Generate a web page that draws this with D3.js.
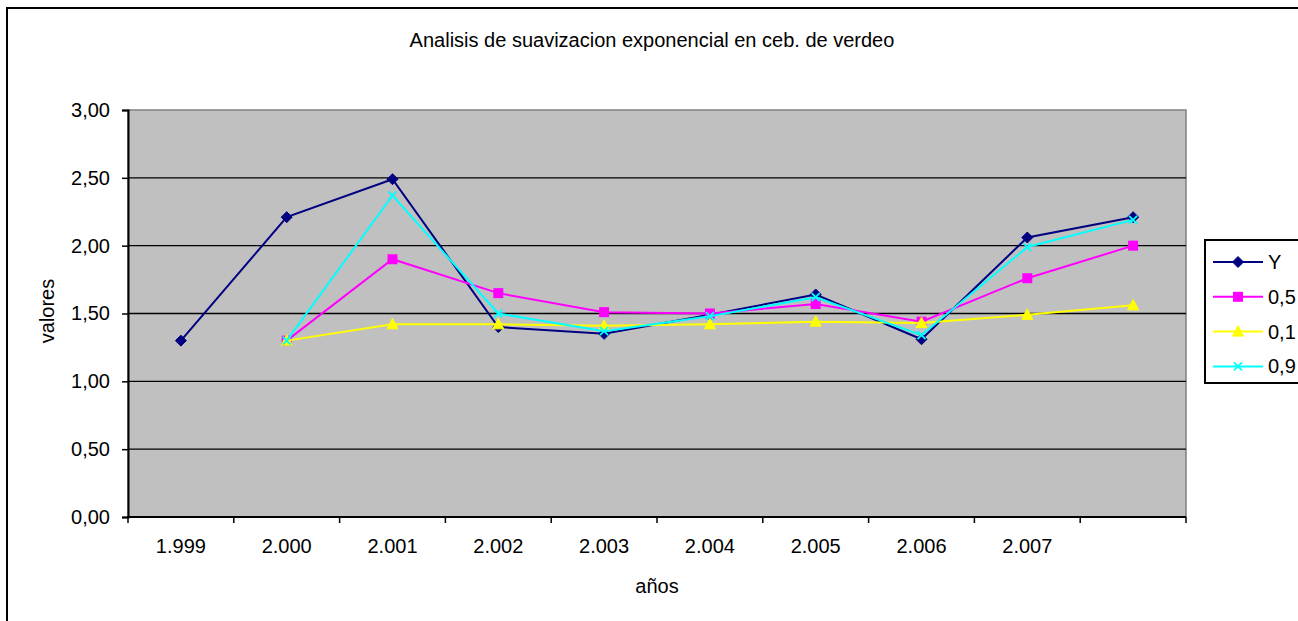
<!DOCTYPE html>
<html>
<head>
<meta charset="utf-8">
<script src="https://cdn.jsdelivr.net/npm/d3@7"></script>
<style>
  body { margin: 0; background: #fff; }
  svg { display: block; font-family: "Liberation Sans", Arial, sans-serif; }
</style>
</head>
<body>
<svg width="1298" height="621"></svg>
<script>
// categories (last one has no label in the original)
var years = ["1.999", "2.000", "2.001", "2.002", "2.003", "2.004", "2.005", "2.006", "2.007", ""];
var serieY   = [1.30, 2.21, 2.49, 1.40, 1.35, 1.49, 1.64, 1.31, 2.06, 2.21];
var serie05  = [null, 1.30, 1.90, 1.65, 1.51, 1.50, 1.57, 1.44, 1.76, 2.00];
var serie01  = [null, 1.30, 1.42, 1.42, 1.41, 1.42, 1.44, 1.43, 1.49, 1.56];
var serie09  = [null, 1.30, 2.37, 1.50, 1.37, 1.48, 1.62, 1.34, 1.99, 2.19];
var seriesNames = ["Y", "0,5", "0,1", "0,9"];
var yTicks = [0, 0.5, 1, 1.5, 2, 2.5, 3];

var series = [
  {name: seriesNames[0], values: serieY,  color: "#000080", marker: "diamond"},
  {name: seriesNames[1], values: serie05, color: "#ff00ff", marker: "square"},
  {name: seriesNames[2], values: serie01, color: "#ffff00", marker: "triangle"},
  {name: seriesNames[3], values: serie09, color: "#00ffff", marker: "cross"}
];

var svg = d3.select("svg");
var fs = 20;

// outer chart frame
svg.append("rect")
    .attr("x", 7).attr("y", 8)
    .attr("width", 1400).attr("height", 700)
    .attr("fill", "#fff")
    .attr("stroke", "#000")
    .attr("stroke-width", 2);

var pLeft = 128, pRight = 1186, pTop = 110, pBottom = 517;

var x = d3.scaleBand()
    .domain(d3.range(years.length))
    .range([pLeft, pRight]);

var y = d3.scaleLinear()
    .domain([0, 3])
    .range([pBottom, pTop]);

// plot area
svg.append("rect")
    .attr("x", pLeft).attr("y", pTop)
    .attr("width", pRight - pLeft).attr("height", pBottom - pTop)
    .attr("fill", "#c0c0c0")
    .attr("stroke", "#808080")
    .attr("stroke-width", 1.5);

// gridlines
svg.append("g")
  .selectAll("line")
  .data(yTicks.filter(function(d) { return d > 0 && d < 3; }))
  .enter().append("line")
    .attr("x1", pLeft).attr("x2", pRight)
    .attr("y1", function(d) { return y(d); })
    .attr("y2", function(d) { return y(d); })
    .attr("stroke", "#000")
    .attr("stroke-width", 1.4);

// y axis
var yAxis = svg.append("g")
    .attr("transform", "translate(" + pLeft + ",0)")
    .call(d3.axisLeft(y)
      .tickValues(yTicks)
      .tickSize(6)
      .tickPadding(12)
      .tickFormat(function(d) { return d3.format(".2f")(d).replace(".", ","); }));
yAxis.select(".domain").attr("stroke", "#000").attr("stroke-width", 2);
yAxis.selectAll(".tick line").attr("stroke", "#000").attr("stroke-width", 1.5);
yAxis.selectAll(".tick text")
    .attr("font-size", fs)
    .attr("font-family", "Liberation Sans, Arial, sans-serif")
    .attr("fill", "#000");

// x axis: labels at band centers, tick marks at band edges
var xAxis = svg.append("g")
    .attr("transform", "translate(0," + pBottom + ")")
    .call(d3.axisBottom(x)
      .tickSize(0)
      .tickPadding(22)
      .tickFormat(function(i) { return years[i]; }));
xAxis.select(".domain").remove();
xAxis.selectAll(".tick text")
    .attr("font-size", fs)
    .attr("font-family", "Liberation Sans, Arial, sans-serif")
    .attr("fill", "#000");

var edges = d3.range(years.length).map(function(i) { return x(i); }).concat([pRight]);
svg.append("g")
  .selectAll("line")
  .data(edges)
  .enter().append("line")
    .attr("x1", function(d) { return d; })
    .attr("x2", function(d) { return d; })
    .attr("y1", pBottom).attr("y2", pBottom + 6)
    .attr("stroke", "#000")
    .attr("stroke-width", 1.5);
svg.append("line")
    .attr("x1", pLeft - 1).attr("x2", pRight)
    .attr("y1", pBottom).attr("y2", pBottom)
    .attr("stroke", "#000")
    .attr("stroke-width", 2);

// titles
svg.append("text")
    .attr("x", 652).attr("y", 47)
    .attr("text-anchor", "middle")
    .attr("font-size", fs)
    .text("Analisis de suavizacion exponencial en ceb. de verdeo");

svg.append("text")
    .attr("x", 657).attr("y", 593)
    .attr("text-anchor", "middle")
    .attr("font-size", fs)
    .text("años");

svg.append("text")
    .attr("transform", "translate(54,311) rotate(-90)")
    .attr("text-anchor", "middle")
    .attr("font-size", fs)
    .text("valores");

function drawMarker(g, type, color) {
  if (type === "diamond") {
    g.append("path").attr("d", "M0,-5.5L5.5,0L0,5.5L-5.5,0Z").attr("fill", color).attr("stroke", color);
  } else if (type === "square") {
    g.append("rect").attr("x", -5).attr("y", -5).attr("width", 10).attr("height", 10).attr("fill", color);
  } else if (type === "triangle") {
    g.append("path").attr("d", "M0,-6L5.5,4.5L-5.5,4.5Z").attr("fill", color).attr("stroke", color);
  } else {
    g.append("path").attr("d", "M-4,-4L4,4M-4,4L4,-4").attr("stroke", color).attr("stroke-width", 1.8).attr("fill", "none");
  }
}

var line = d3.line()
    .defined(function(d) { return d != null; })
    .x(function(d, i) { return x(i) + x.bandwidth() / 2; })
    .y(function(d) { return y(d); });

series.forEach(function(s) {
  svg.append("path")
      .datum(s.values)
      .attr("fill", "none")
      .attr("stroke", s.color)
      .attr("stroke-width", 2)
      .attr("d", line);
  s.values.forEach(function(v, i) {
    if (v == null) return;
    var g = svg.append("g")
        .attr("transform", "translate(" + (x(i) + x.bandwidth() / 2) + "," + y(v) + ")");
    drawMarker(g, s.marker, s.color);
  });
});

// legend
var legend = svg.append("g");
legend.append("rect")
    .attr("x", 1205).attr("y", 240)
    .attr("width", 200).attr("height", 143)
    .attr("fill", "#fff")
    .attr("stroke", "#000")
    .attr("stroke-width", 2);
series.forEach(function(s, i) {
  var ly = 262 + i * 34.8;
  legend.append("line")
      .attr("x1", 1213).attr("x2", 1263)
      .attr("y1", ly).attr("y2", ly)
      .attr("stroke", s.color)
      .attr("stroke-width", 2);
  var g = legend.append("g").attr("transform", "translate(1238," + ly + ")");
  drawMarker(g, s.marker, s.color);
  legend.append("text")
      .attr("x", 1268).attr("y", ly + 7)
      .attr("font-size", fs)
      .text(s.name);
});
</script>
</body>
</html>
